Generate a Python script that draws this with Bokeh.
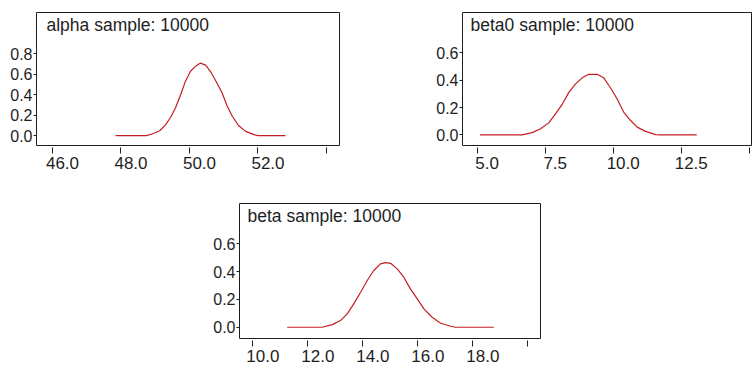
from bokeh.plotting import figure
from bokeh.models import Range1d, Label, Spacer, FixedTicker, PrintfTickFormatter, LinearAxis
from bokeh.layouts import row, column
from bokeh.embed import file_html
from bokeh.resources import INLINE

# ---- data ----
alpha_x = [47.84, 48.74, 48.91, 49.13, 49.30, 49.45, 49.59, 49.74, 49.88, 50.03, 50.18,
           50.32, 50.47, 50.61, 50.81, 50.95, 51.10, 51.25, 51.44, 51.64, 51.88, 52.00, 52.80]
alpha_y = [0.0, 0.0, 0.016, 0.048, 0.106, 0.18, 0.27, 0.40, 0.53, 0.63, 0.68,
           0.71, 0.69, 0.63, 0.51, 0.42, 0.29, 0.19, 0.096, 0.042, 0.010, 0.0, 0.0]

beta0_x = [5.10, 6.65, 7.02, 7.33, 7.63, 7.88, 8.13, 8.37, 8.61, 8.86, 9.10, 9.41,
           9.65, 9.90, 10.15, 10.39, 10.64, 10.88, 11.19, 11.56, 11.74, 13.07]
beta0_y = [0.0, 0.0, 0.017, 0.045, 0.088, 0.153, 0.225, 0.31, 0.37, 0.416, 0.442, 0.442,
           0.416, 0.344, 0.26, 0.165, 0.105, 0.057, 0.026, 0.002, 0.0, 0.0]

beta_x = [11.25, 12.52, 12.89, 13.19, 13.43, 13.67, 13.92, 14.16, 14.40, 14.64, 14.83,
          15.01, 15.25, 15.49, 15.73, 15.98, 16.22, 16.52, 16.83, 17.19, 17.37, 18.76]
beta_y = [0.0, 0.0, 0.019, 0.048, 0.096, 0.168, 0.252, 0.336, 0.408, 0.456, 0.465,
          0.46, 0.42, 0.36, 0.276, 0.204, 0.132, 0.072, 0.029, 0.007, 0.0, 0.0]

alpha_xticks = [46, 48, 50, 52, 54]
beta0_xticks = [5, 7.5, 10, 12.5, 15]
beta_xticks = [10, 12, 14, 16, 18, 20]
alpha_yticks = [0, 0.2, 0.4, 0.6, 0.8]
beta0_yticks = [0, 0.2, 0.4, 0.6]
beta_yticks = [0, 0.2, 0.4, 0.6]

titles = ["alpha sample: 10000", "beta0 sample: 10000", "beta sample: 10000"]

FONT = "Liberation Sans"
LINE_COLOR = "#c41e22"
INK = "#1e1e1e"
LABEL_SHIFT_PX = 10  # x tick labels sit a little to the right of their ticks


def panel(xs, ys, title, xticks, yticks, xr, yr, width, height,
          bl, br, bt, bb, title_dx, title_dy):
    p = figure(width=width, height=height, output_backend="svg", toolbar_location=None,
               x_range=Range1d(*xr), y_range=Range1d(*yr),
               min_border_left=bl, min_border_right=br,
               min_border_top=bt, min_border_bottom=bb)
    p.background_fill_color = "white"
    p.border_fill_color = "white"
    p.outline_line_color = INK
    p.outline_line_width = 1
    p.xgrid.visible = False
    p.ygrid.visible = False

    frame_w = width - bl - br
    shift = LABEL_SHIFT_PX * (xr[1] - xr[0]) / frame_w
    p.extra_x_ranges = {"lab": Range1d(xr[0] - shift, xr[1] - shift)}

    # tick-only x axis (ticks start just below the frame; its labels are not painted)
    xa = p.xaxis[0]
    xa.ticker = FixedTicker(ticks=xticks)
    xa.axis_line_color = None
    xa.minor_tick_line_color = None
    xa.major_tick_line_color = INK
    xa.major_tick_in = -2
    xa.major_tick_out = 8
    xa.major_label_standoff = 0
    xa.major_label_text_font_size = "1px"
    xa.major_label_text_color = None

    # label-only x axis
    la = LinearAxis(x_range_name="lab", ticker=FixedTicker(ticks=xticks[:-1]),
                    formatter=PrintfTickFormatter(format="%.1f"))
    la.axis_line_color = None
    la.minor_tick_line_color = None
    la.major_tick_line_color = None
    la.major_tick_in = 0
    la.major_tick_out = 0
    la.major_label_standoff = 3
    la.major_label_text_font = FONT
    la.major_label_text_font_size = "17px"
    la.major_label_text_color = INK
    p.add_layout(la, "below")

    ya = p.yaxis[0]
    ya.ticker = FixedTicker(ticks=yticks)
    ya.formatter = PrintfTickFormatter(format="%.1f")
    ya.axis_line_color = None
    ya.minor_tick_line_color = None
    ya.major_tick_line_color = INK
    ya.major_tick_in = 0
    ya.major_tick_out = 3
    ya.major_label_standoff = 1
    ya.major_label_text_font = FONT
    ya.major_label_text_font_size = "16px"
    ya.major_label_text_color = INK

    p.line(xs, ys, line_color=LINE_COLOR, line_width=1.2)

    p.add_layout(Label(x=xr[0], y=yr[1], x_offset=title_dx, y_offset=-title_dy,
                       text=title, text_font=FONT, text_font_size="17.5px",
                       text_color=INK, text_baseline="alphabetic"))
    return p


p1 = panel(alpha_x, alpha_y, titles[0], alpha_xticks, alpha_yticks,
           (45.533, 54.38), (-0.0964, 1.205), 380, 180, 36, 41, 10, 35, 10, 12)
p2 = panel(beta0_x, beta0_y, titles[1], beta0_xticks, beta0_yticks,
           (4.46, 15.12), (-0.0768, 0.892), 327, 180, 37, 0, 12, 33, 8, 12)
p3 = panel(beta_x, beta_y, titles[2], beta_xticks, beta_yticks,
           (9.516, 20.46), (-0.081, 0.890), 348, 192, 37, 10, 23, 34, 8, 12)

layout = column(row(p1, Spacer(width=45, height=180), p2),
                row(Spacer(width=202, height=192), p3))

open("out.html", "w").write(file_html(layout, INLINE))
